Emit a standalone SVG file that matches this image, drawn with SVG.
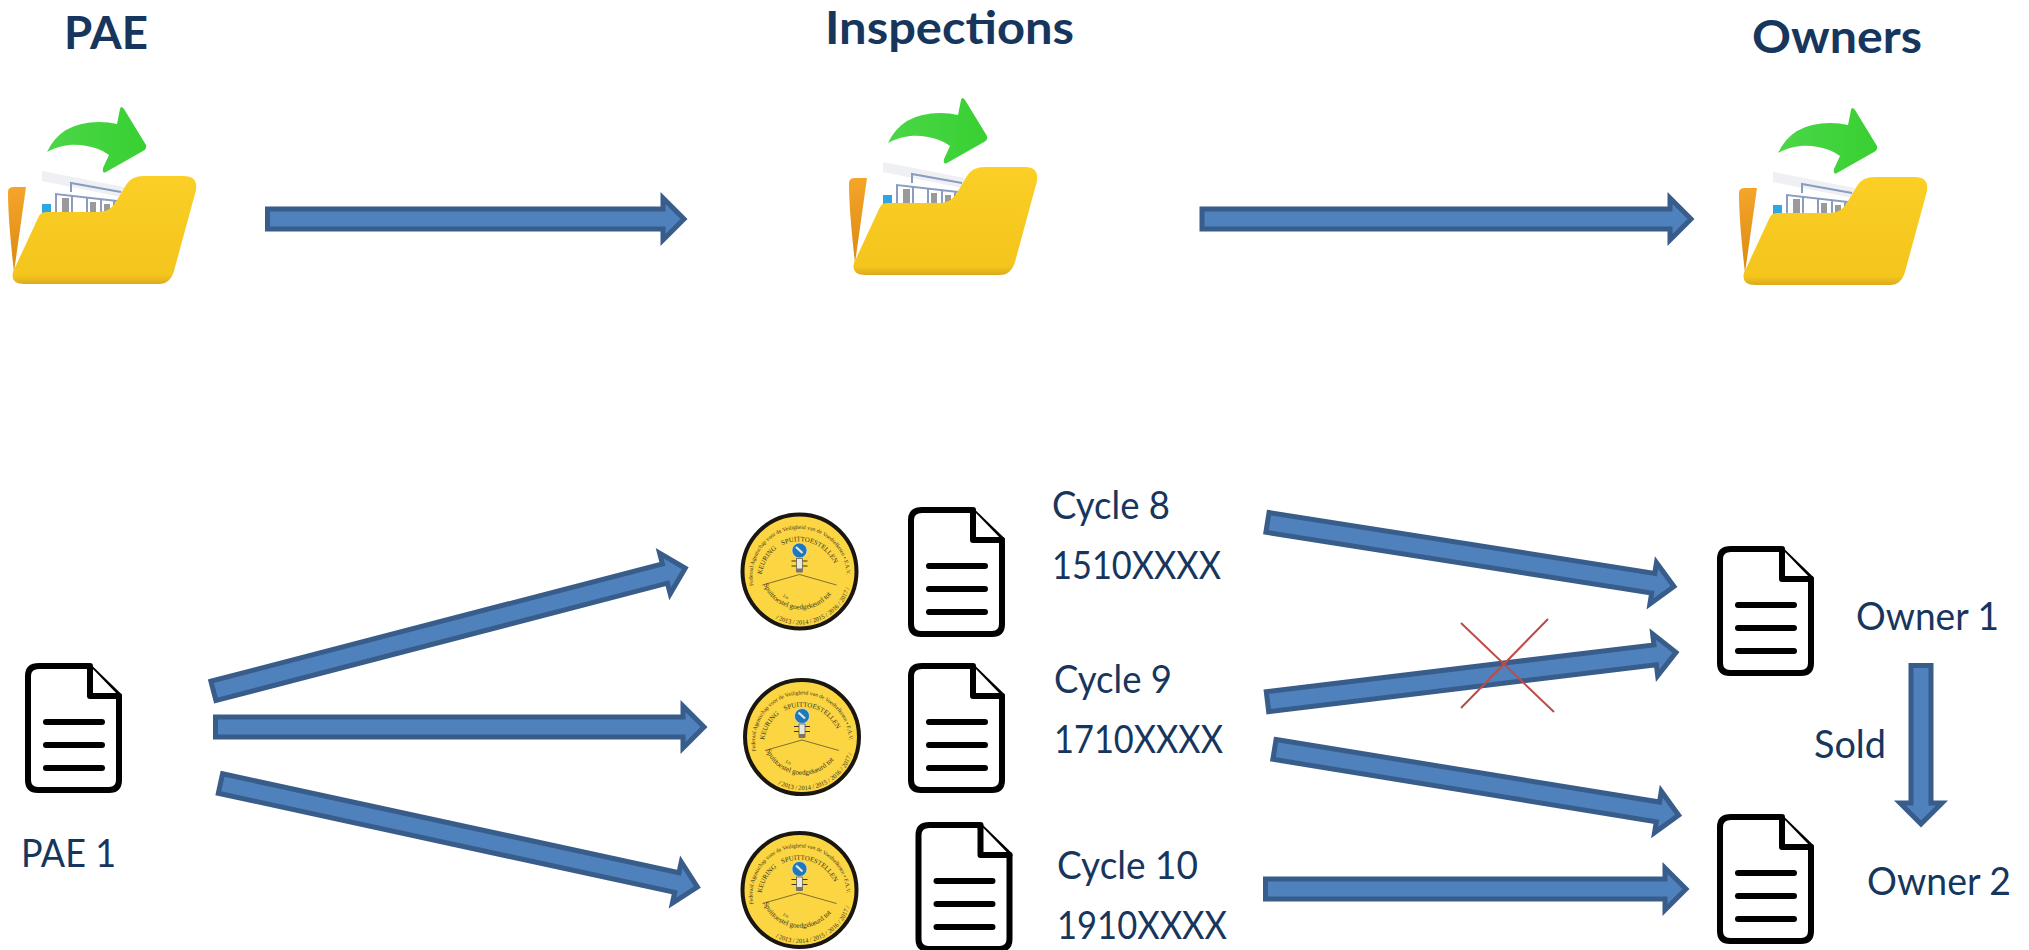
<svg xmlns="http://www.w3.org/2000/svg" width="2029" height="950" viewBox="0 0 2029 950">
<style>
text{font-family:"Lato","Liberation Sans",sans-serif;fill:#17365d}
.t{font-size:39px}
.h{font-size:46px;font-weight:700}
.ar{fill:#4f81bd;stroke:#385d8a;stroke-width:5;stroke-miterlimit:10}
.x{stroke:#be4b48;stroke-width:2;fill:none}
.dk{fill:#fff;stroke:#000;stroke-width:6;stroke-linejoin:round;stroke-linecap:round}
.dl{fill:none;stroke:#000;stroke-width:6;stroke-linecap:round}
.sf{font-family:"Liberation Serif",serif;fill:#3a3420}
.s1{font-size:5.6px}.s2{font-size:6.8px}.s3{font-size:7.2px}.s4{font-size:6.4px}.s5{font-size:4.5px}
</style>
<defs>
<linearGradient id="gY" x1="0" y1="0" x2="0" y2="1"><stop offset="0" stop-color="#fbcf26"/><stop offset=".92" stop-color="#f4c51c"/><stop offset="1" stop-color="#dcaa20"/></linearGradient>
<linearGradient id="gO" x1="0" y1="0" x2="0" y2="1"><stop offset="0" stop-color="#f5a52a"/><stop offset="1" stop-color="#d98a10"/></linearGradient>
<linearGradient id="gG" x1="0" y1="0" x2="1" y2="0"><stop offset="0" stop-color="#4cd648"/><stop offset="1" stop-color="#38d032"/></linearGradient>
<g id="folder">
<path d="M9 192Q9 187 15 187H27L15 272Q9 220 9 192Z" fill="url(#gO)"/>
<path d="M43 171L125 187L122 197L43 181Z" fill="#eef0f3"/>
<path d="M72 192V183L122 192" fill="none" stroke="#8a9cc0" stroke-width="2"/>
<path d="M57 213V194L118 201M73 196V213M88 198V213M102 200V213M115 201V213" fill="none" stroke="#8a9cc0" stroke-width="2"/>
<rect x="63" y="198" width="7" height="15" fill="#9a9a9a"/><rect x="91" y="202" width="6" height="11" fill="#9a9a9a"/><rect x="105" y="204" width="6" height="9" fill="#9a9a9a"/><rect x="43" y="204" width="9" height="10" fill="#2ea6e0"/>
<path d="M14 272L39 218Q41 212 47 212H100Q112 212 118 200L127 185Q132 176 145 176H185Q199 176 197 190L175 271Q171 284 160 284H25Q11 284 14 272Z" fill="url(#gY)"/>
<path d="M48 152Q62 122 100 122Q110 122 118 124L121 109Q122 105 125 109L147 145Q148 149 144 151L107 172Q103 174 104 168L110 155C100 147 72 138 48 152Z" fill="url(#gG)"/>
</g>
<g id="doc">
<path class="dk" d="M14 3H63L94 33V117Q94 127 84 127H13Q3 127 3 117V13Q3 3 14 3Z"/>
<path class="dk" d="M65 3V33H94"/>
<path class="dl" d="M21 59H77M21 82H77M21 105H77"/>
</g>
<g id="sealArt">
<circle r="57" fill="#fbd542" stroke="#1a1610" stroke-width="4"/>
<circle cy="-21" r="7.5" fill="#1f78b8" stroke="#e8eef0" stroke-width=".6"/>
<path d="M-3.5 -24.5L3 -18.5" stroke="#dfe8ee" stroke-width="2.2"/>
<path d="M-8 -10.5H8M-8 -5.5H8" stroke="#3a3420" stroke-width="1"/>
<rect x="-3" y="-13" width="6" height="13" fill="#e8e8e0" stroke="#55524a" stroke-width=".7"/>
<rect x="-3" y="-3" width="6" height="4" fill="#77746c"/>
<path d="M0 3L-37 13.5M0 3L37 13.5" stroke="#4a4430" stroke-width=".7" fill="none"/>
</g>
<path id="arcOuter" d="M-46 14A47 47 0 1 1 47 4"/>
<path id="arcKeur" d="M-37.7 3A38 38 0 0 1 37.7 3"/>
<path id="arcLow" d="M-36 13A39.5 39.5 0 0 0 36 16"/>
<path id="arcYear" d="M-24 47.2A53 53 0 0 0 50 17.6"/>
</defs>
<rect width="2029" height="950" fill="#fff"/>
<g id="connectors">
<polygon class="ar" points="2.5,-10 398,-10 398,-21 419,0 398,21 398,10 2.5,10" transform="translate(265 219)"/>
<polygon class="ar" points="2.5,-10 470.5,-10 470.5,-21 491.5,0 470.5,21 470.5,10 2.5,10" transform="translate(1199.5 219)"/>
<polygon class="ar" points="2.5,-10 469,-10 469,-21 490,0 469,21 469,10 2.5,10" transform="translate(211 691.5) rotate(-14.57)"/>
<polygon class="ar" points="2.5,-10 470,-10 470,-21 491,0 470,21 470,10 2.5,10" transform="translate(213 727)"/>
<polygon class="ar" points="2.5,-10 469.5,-10 469.5,-21 490.5,0 469.5,21 469.5,10 2.5,10" transform="translate(218 783) rotate(12.24)"/>
<polygon class="ar" points="2.5,-10 393,-10 393,-21 414,0 393,21 393,10 2.5,10" transform="translate(1265 522) rotate(8.97)"/>
<polygon class="ar" points="2.5,-10 393,-10 393,-21 414,0 393,21 393,10 2.5,10" transform="translate(1265 702) rotate(-6.89)"/>
<polygon class="ar" points="2.5,-10 391,-10 391,-21 412,0 391,21 391,10 2.5,10" transform="translate(1272 749) rotate(9.26)"/>
<polygon class="ar" points="2.5,-10 402,-10 402,-21 423,0 402,21 402,10 2.5,10" transform="translate(1263 889)"/>
<polygon class="ar" points="2.5,-10 140,-10 140,-21 161,0 140,21 140,10 2.5,10" transform="translate(1921 663) rotate(90)"/>
</g>
<g id="cross"><path class="x" d="M1461 623L1554 712M1548 619L1461 708"/></g>
<g id="node-pae"><text class="h" x="64" y="49" textLength="84" lengthAdjust="spacingAndGlyphs">PAE</text><use href="#folder" transform="translate(-1 0)"/></g>
<g id="node-inspections"><text class="h" x="825" y="44" textLength="249" lengthAdjust="spacingAndGlyphs">Inspections</text><use href="#folder" transform="translate(840 -9)"/></g>
<g id="node-owners"><text class="h" x="1752" y="53" textLength="170" lengthAdjust="spacingAndGlyphs">Owners</text><use href="#folder" transform="translate(1730 1)"/></g>
<g id="node-pae1"><use href="#doc" transform="translate(25 663)"/><text class="t" x="21" y="866.5" textLength="95" lengthAdjust="spacingAndGlyphs">PAE 1</text></g>
<g id="node-cycle8">
<g transform="translate(799.5 571.5)"><use href="#sealArt"/>
<text class="sf s1"><textPath href="#arcOuter">Federaal Agentschap voor de Veiligheid van de Voedselketen • F.A.V.V.</textPath></text>
<text class="sf s2"><textPath href="#arcKeur">KEURING</textPath></text>
<text class="sf s2"><textPath href="#arcKeur" startOffset="37">SPUITTOESTELLEN</textPath></text>
<text class="sf s3"><textPath href="#arcLow">Spuittoestel goedgekeurd tot</textPath></text>
<text class="sf s4"><textPath href="#arcYear">/ 2013 / 2014 / 2015 / 2016 / 2017 /</textPath></text>
<text class="sf s5" transform="translate(-17 25) rotate(30)">1/o</text></g>
<use href="#doc" transform="translate(908 507)"/>
<text class="t" x="1052" y="518.5" textLength="118" lengthAdjust="spacingAndGlyphs">Cycle 8</text><text class="t" x="1052" y="578.5" textLength="169" lengthAdjust="spacingAndGlyphs">1510XXXX</text></g>
<g id="node-cycle9">
<g transform="translate(802 737)"><use href="#sealArt"/>
<text class="sf s1"><textPath href="#arcOuter">Federaal Agentschap voor de Veiligheid van de Voedselketen • F.A.V.V.</textPath></text>
<text class="sf s2"><textPath href="#arcKeur">KEURING</textPath></text>
<text class="sf s2"><textPath href="#arcKeur" startOffset="37">SPUITTOESTELLEN</textPath></text>
<text class="sf s3"><textPath href="#arcLow">Spuittoestel goedgekeurd tot</textPath></text>
<text class="sf s4"><textPath href="#arcYear">/ 2013 / 2014 / 2015 / 2016 / 2017 /</textPath></text>
<text class="sf s5" transform="translate(-17 25) rotate(30)">1/o</text></g>
<use href="#doc" transform="translate(908 663)"/>
<text class="t" x="1054" y="692.5" textLength="118" lengthAdjust="spacingAndGlyphs">Cycle 9</text><text class="t" x="1054" y="752.5" textLength="169" lengthAdjust="spacingAndGlyphs">1710XXXX</text></g>
<g id="node-cycle10">
<g transform="translate(799.5 890)"><use href="#sealArt"/>
<text class="sf s1"><textPath href="#arcOuter">Federaal Agentschap voor de Veiligheid van de Voedselketen • F.A.V.V.</textPath></text>
<text class="sf s2"><textPath href="#arcKeur">KEURING</textPath></text>
<text class="sf s2"><textPath href="#arcKeur" startOffset="37">SPUITTOESTELLEN</textPath></text>
<text class="sf s3"><textPath href="#arcLow">Spuittoestel goedgekeurd tot</textPath></text>
<text class="sf s4"><textPath href="#arcYear">/ 2013 / 2014 / 2015 / 2016 / 2017 /</textPath></text>
<text class="sf s5" transform="translate(-17 25) rotate(30)">1/o</text></g>
<use href="#doc" transform="translate(915.5 822)"/>
<text class="t" x="1057" y="878.5" textLength="141" lengthAdjust="spacingAndGlyphs">Cycle 10</text><text class="t" x="1057" y="938.5" textLength="170" lengthAdjust="spacingAndGlyphs">1910XXXX</text></g>
<g id="node-owner1"><use href="#doc" transform="translate(1717 546)"/><text class="t" x="1856" y="629.5" textLength="143" lengthAdjust="spacingAndGlyphs">Owner 1</text></g>
<g id="node-owner2"><use href="#doc" transform="translate(1717 814)"/><text class="t" x="1867" y="894.5" textLength="144" lengthAdjust="spacingAndGlyphs">Owner 2</text></g>
<g id="label-sold"><text class="t" x="1814" y="757.5" textLength="72" lengthAdjust="spacingAndGlyphs">Sold</text></g>
</svg>
